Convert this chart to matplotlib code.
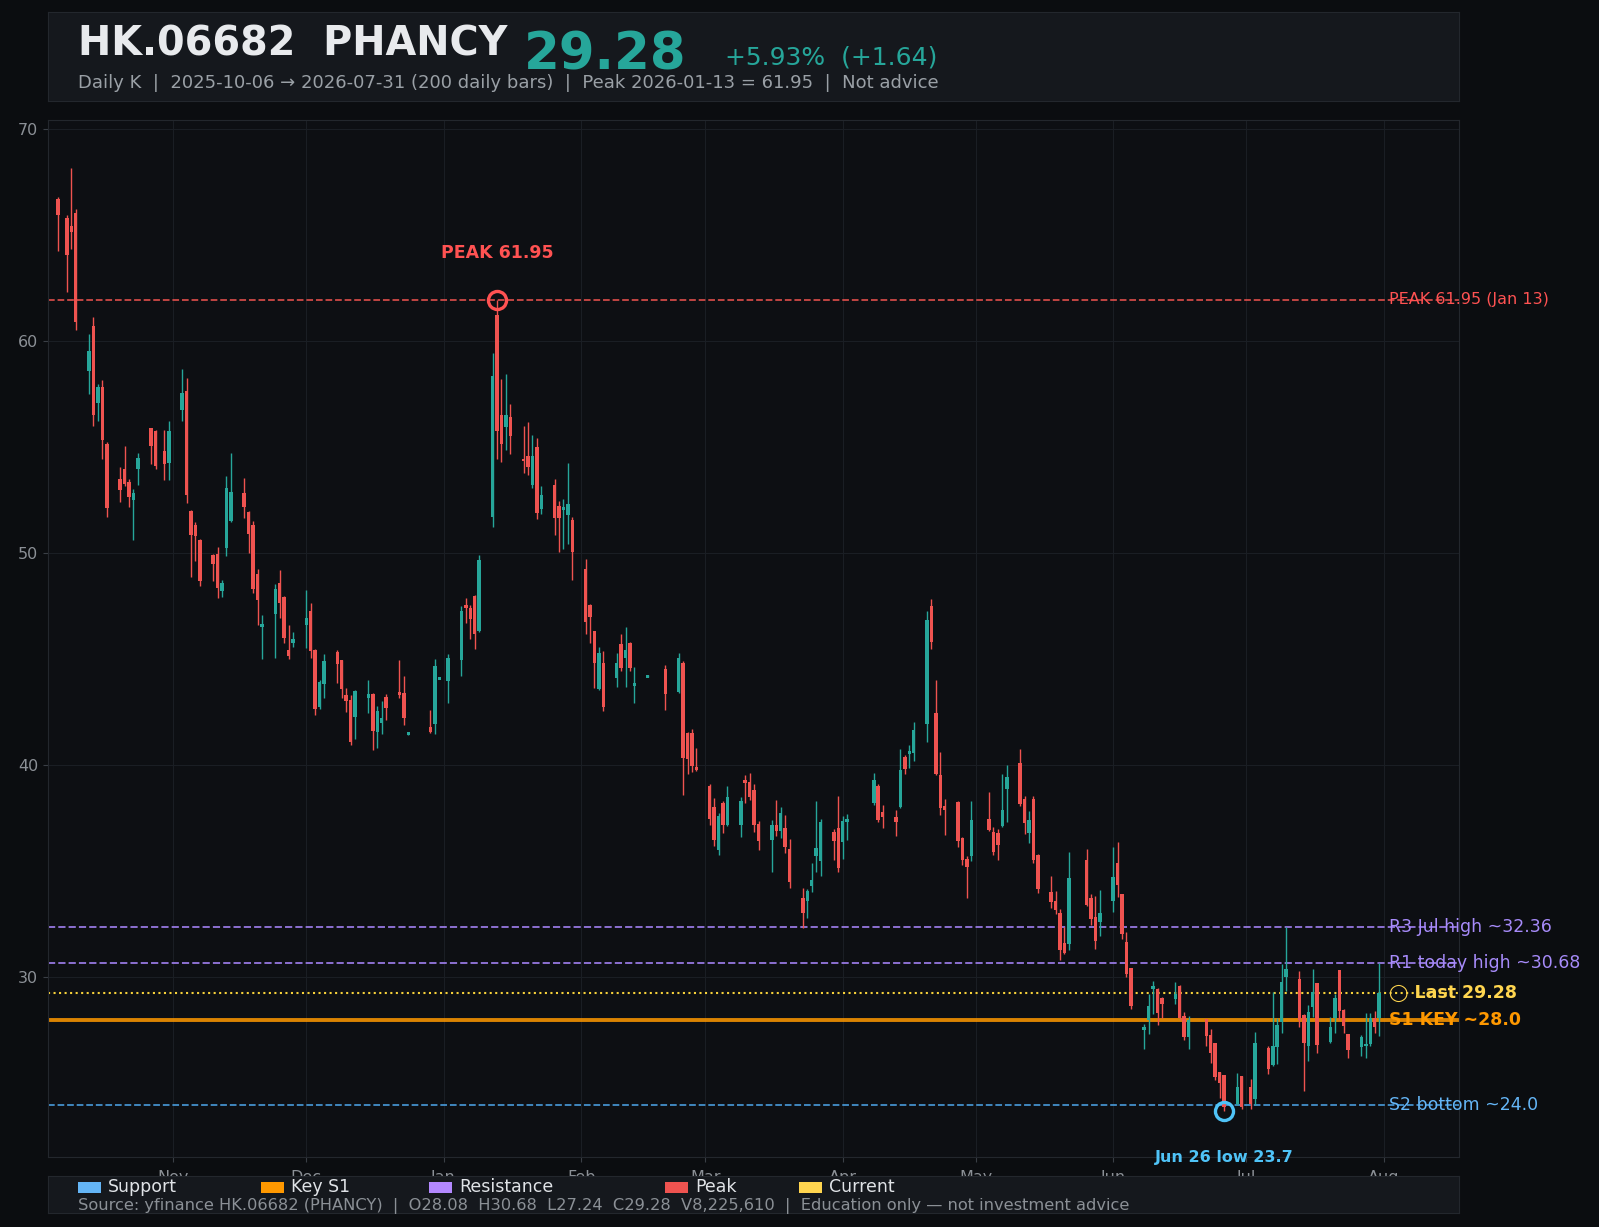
import matplotlib
matplotlib.use("Agg")
import matplotlib.pyplot as plt
import matplotlib.dates as mdates
from matplotlib.patches import Rectangle
import numpy as np
import pandas as pd

# Sesiones de HKEX: dias habiles menos festivos
festivos_hk = ["2025-10-07", "2025-10-29", "2025-12-25", "2025-12-26", "2026-01-01",
               "2026-02-17", "2026-02-18", "2026-02-19", "2026-04-03", "2026-04-06",
               "2026-04-07", "2026-05-01", "2026-05-25", "2026-06-19", "2026-07-01"]
dias = pd.bdate_range("2025-10-06", "2026-07-31")
dias = dias[~dias.isin(pd.to_datetime(festivos_hk))]

# OHLC (oct -> jul)
opens = [
    66.72, 65.84, 65.45, 66.03, 58.58, 60.74, 57.11, 57.84, 55.14, 53.53, 54.00, 53.35, 52.50, 53.97, 55.91, 55.77, 54.83, 54.27,
    56.77, 57.66, 52.00, 51.34, 50.63, 49.93, 49.96, 48.24, 50.27, 51.53, 52.83, 51.95, 51.34, 49.02, 46.56, 47.15, 48.60, 47.95, 45.44, 45.78,
    46.63, 47.27, 45.44, 42.76, 43.85, 45.36, 44.97, 43.32, 43.08, 42.29, 43.19, 43.36, 41.59, 42.01, 43.22, 43.42, 43.41, 41.49, 41.81, 41.95, 44.08,
    43.98, 44.98, 47.56, 47.42, 47.98, 46.33, 51.71, 61.24, 56.53, 55.97, 56.43, 54.46, 54.59, 53.22, 55.02, 52.09, 53.22, 52.23, 52.10, 51.81, 51.57,
    49.26, 47.56, 46.33, 43.60, 44.83, 44.13, 45.72, 45.08, 45.77, 43.80, 44.18, 44.54, 43.46, 44.83, 41.52, 41.52, 39.92,
    39.02, 38.03, 36.00, 38.22, 37.18, 37.18, 39.31, 39.21, 38.84, 37.23, 36.48, 37.18, 36.90, 37.04, 36.05, 33.74, 33.60, 34.31, 35.72, 35.49, 36.85, 37.04,
    36.38, 37.33, 38.22, 39.02, 37.80, 37.56, 38.03, 40.39, 40.59, 40.58, 41.95, 47.51, 42.47, 39.54, 38.09, 38.27, 36.57, 35.58, 35.72,
    37.47, 36.86, 36.81, 37.14, 38.88, 40.11, 38.41, 36.81, 38.41, 35.77, 34.02, 33.60, 33.03, 31.62, 31.57, 35.53, 33.74, 32.84, 32.61,
    33.60, 35.39, 33.93, 31.67, 30.44, 27.52, 27.99, 29.49, 29.45, 29.02, 28.98, 29.59, 28.17, 27.18, 28.03, 27.28, 26.90, 25.53, 25.39, 24.03, 25.35,
    24.83, 24.26, 26.66, 25.86, 26.71, 27.89, 30.01, 29.92, 28.22, 26.76, 28.60, 29.73, 26.95, 28.08, 30.34, 28.46, 27.33, 26.71, 26.76, 26.86, 28.08, 28.08,
]
highs = [
    66.82, 65.94, 68.19, 66.23, 60.34, 61.13, 57.99, 58.19, 55.24, 54.06, 55.04, 53.53, 53.03, 54.71, 55.93, 55.83, 55.81, 56.25,
    58.70, 58.26, 52.05, 51.50, 50.70, 49.95, 50.32, 48.74, 53.64, 54.74, 53.56, 52.00, 51.53, 49.25, 47.09, 48.55, 49.21, 48.00, 46.61, 46.30,
    48.27, 47.67, 45.48, 44.03, 45.25, 45.44, 44.99, 43.63, 43.32, 43.55, 44.02, 43.40, 42.79, 43.03, 43.36, 44.97, 44.21, 41.55, 42.61, 45.00, 44.14,
    45.25, 47.51, 47.89, 47.56, 48.03, 49.92, 59.46, 61.95, 58.23, 58.46, 57.04, 56.02, 56.19, 55.56, 55.44, 53.17, 53.50, 52.47, 52.55, 54.26, 51.71,
    49.73, 47.59, 46.36, 45.60, 45.41, 45.31, 46.19, 46.54, 45.80, 44.65, 44.24, 44.73, 45.31, 44.90, 41.55, 41.71, 40.82,
    39.12, 38.46, 37.75, 38.32, 39.02, 38.50, 39.54, 39.64, 39.12, 37.37, 37.42, 38.36, 38.03, 37.66, 36.52, 34.21, 34.17, 35.39, 38.32, 37.47, 37.00, 38.55,
    37.61, 37.70, 39.64, 39.10, 38.13, 37.89, 40.77, 40.49, 40.96, 42.04, 47.28, 47.84, 44.02, 40.63, 38.42, 38.30, 36.60, 35.72, 38.32,
    38.75, 37.09, 37.00, 39.59, 40.02, 40.77, 38.55, 37.84, 38.55, 35.80, 34.78, 34.07, 33.22, 32.37, 35.91, 36.05, 33.93, 33.83, 34.12,
    36.15, 36.38, 33.95, 32.14, 30.46, 27.80, 29.21, 29.83, 29.49, 29.05, 29.78, 29.62, 28.36, 28.17, 28.05, 27.56, 26.92, 25.55, 25.41, 25.49, 25.36,
    25.20, 27.42, 26.76, 29.30, 28.08, 30.63, 32.37, 30.30, 28.25, 28.69, 30.39, 29.75, 28.13, 29.21, 30.36, 28.50, 27.35, 27.28, 28.31, 28.31, 28.41, 30.68,
]
lows = [
    64.27, 62.31, 64.37, 60.54, 57.50, 56.03, 56.22, 54.46, 51.71, 52.40, 53.18, 52.20, 50.63, 53.22, 54.21, 53.97, 53.48, 53.46,
    56.25, 52.39, 48.89, 49.64, 48.47, 48.70, 47.90, 47.95, 49.88, 51.50, 51.65, 50.01, 48.11, 46.60, 45.02, 45.08, 46.96, 45.78, 45.02, 45.57,
    45.55, 45.06, 42.37, 42.68, 43.18, 43.90, 43.17, 42.53, 40.96, 41.24, 42.45, 40.72, 40.83, 41.48, 42.13, 43.20, 41.90, 41.45, 41.54, 41.50, 44.06,
    42.94, 44.22, 46.72, 45.96, 45.49, 46.30, 51.24, 54.45, 54.31, 54.87, 54.70, 53.80, 53.71, 53.10, 51.61, 51.86, 50.87, 50.06, 50.20, 50.43, 48.74,
    46.20, 45.75, 43.63, 43.55, 42.56, 43.68, 44.45, 43.71, 44.45, 42.94, 44.16, 42.61, 43.40, 38.60, 39.59, 39.68, 39.75,
    37.18, 36.19, 35.77, 36.81, 37.15, 36.62, 38.22, 38.36, 36.85, 36.00, 34.97, 36.66, 36.57, 35.86, 34.21, 32.31, 32.80, 34.02, 34.97, 34.78, 35.53, 34.97,
    35.58, 36.48, 38.13, 37.33, 37.04, 36.67, 38.00, 39.59, 39.87, 40.20, 41.10, 45.49, 39.55, 37.66, 36.71, 36.15, 35.30, 33.74, 35.49,
    36.90, 35.77, 35.53, 37.10, 37.33, 38.10, 36.76, 36.33, 35.39, 33.98, 33.27, 32.99, 30.82, 31.10, 31.29, 33.35, 32.47, 31.34, 31.95,
    33.08, 33.79, 31.81, 30.01, 28.50, 26.61, 27.33, 28.27, 27.75, 28.08, 28.74, 28.00, 27.04, 26.61, 26.76, 25.96, 25.16, 24.31, 23.69, 24.00, 23.79,
    23.79, 24.00, 25.44, 25.82, 25.91, 27.37, 29.35, 27.66, 24.64, 26.05, 28.13, 26.43, 26.90, 27.37, 27.99, 27.37, 26.19, 26.29, 26.19, 26.76, 27.37, 27.24,
]
closes = [
    65.94, 64.07, 65.15, 60.93, 59.56, 56.52, 57.84, 55.34, 52.15, 53.00, 53.25, 52.67, 52.86, 54.50, 55.05, 54.13, 54.21, 55.77,
    57.56, 52.77, 50.87, 50.83, 48.70, 49.51, 48.37, 48.60, 53.08, 52.89, 52.20, 50.90, 48.30, 47.80, 46.61, 48.32, 47.67, 46.02, 45.17, 45.96,
    46.95, 45.39, 42.65, 43.91, 44.92, 44.78, 43.60, 43.05, 41.11, 43.50, 43.36, 41.63, 42.56, 42.23, 42.72, 43.37, 42.25, 41.53, 41.57, 44.68, 44.12,
    45.06, 47.27, 47.42, 46.90, 46.20, 49.68, 58.38, 55.78, 55.17, 56.53, 55.55, 54.34, 54.08, 54.59, 51.90, 52.75, 51.66, 51.66, 52.14, 52.33, 50.06,
    46.76, 46.99, 44.84, 45.30, 42.76, 44.83, 44.59, 45.44, 44.59, 43.84, 44.22, 43.36, 45.06, 40.35, 40.29, 39.97, 39.78,
    37.47, 36.48, 37.61, 37.18, 38.50, 38.32, 39.17, 38.50, 37.18, 36.43, 37.18, 36.90, 37.75, 36.15, 34.50, 33.05, 34.07, 34.59, 36.10, 37.33, 36.43, 35.16,
    37.37, 37.47, 39.31, 37.42, 37.56, 37.33, 39.78, 39.83, 40.63, 41.67, 46.85, 45.82, 39.59, 37.99, 37.90, 36.43, 35.53, 35.20, 37.42,
    36.95, 35.91, 36.24, 37.89, 39.45, 38.18, 37.28, 37.42, 35.53, 34.16, 33.55, 33.17, 31.29, 31.15, 34.68, 33.41, 32.75, 31.71, 33.03,
    34.73, 34.35, 32.04, 30.16, 28.65, 27.66, 28.65, 29.54, 28.32, 28.74, 29.21, 28.08, 27.18, 27.99, 27.23, 26.43, 25.30, 25.01, 23.88, 24.83, 23.88,
    24.02, 26.90, 25.67, 26.76, 27.75, 29.78, 30.39, 27.99, 26.90, 28.36, 29.31, 26.80, 27.66, 29.02, 28.41, 27.70, 26.57, 27.18, 26.86, 28.08, 27.64, 29.28,
]

# Niveles marcados
pico_fecha, pico_valor = "2026-01-13", 61.95
minimo_fecha, minimo_valor = "2026-06-26", 23.69
r3, r1, ultimo, s1, s2 = 32.36, 30.68, 29.28, 28.0, 24.0

# Colores
FONDO = "#0b0d10"
FONDO_AX = "#0d0f13"
PANEL = "#15181d"
BORDE = "#23272d"
SUBE = "#26a69a"
BAJA = "#ef5350"
ROJO = "#ff5252"
MORADO = "#a78bfa"
AMARILLO = "#ffd54f"
NARANJA = "#ff9800"
AZUL = "#64b5f6"
CELESTE = "#4fc3f7"
GRIS = "#8b9096"

W, H = 1599, 1227


def fx(px):
    return px / W


def fy(py):
    return 1 - py / H


fig = plt.figure(figsize=(W / 100, H / 100), dpi=100, facecolor=FONDO)

# ---- Grafico principal ----
ax = fig.add_axes([fx(48), fy(1156.5), fx(1459) - fx(48), fy(120) - fy(1156.5)])
ax.set_facecolor(FONDO_AX)

o = np.array(opens)
h = np.array(highs)
l = np.array(lows)
c = np.array(closes)
x = mdates.date2num(dias)
colores = np.where(c >= o, SUBE, BAJA)
cuerpo = np.maximum(np.abs(c - o), 0.12)
base = (o + c) / 2 - cuerpo / 2

ax.vlines(x, l, h, colors=colores, lw=1.0, zorder=3)
ax.bar(x, cuerpo, bottom=base, width=0.78, color=colores, lw=0, zorder=4)

# Lineas de niveles
ax.axhline(pico_valor, color=BAJA, ls="--", lw=1.3, alpha=0.85, zorder=2)
ax.axhline(r3, color="#9a7be6", ls="--", lw=1.4, alpha=0.9, zorder=2)
ax.axhline(r1, color="#9a7be6", ls="--", lw=1.4, alpha=0.9, zorder=2)
ax.axhline(ultimo, color="#f5d03a", ls=":", lw=1.5, zorder=2)
ax.axhline(s1, color=NARANJA, ls="-", lw=2.8, alpha=0.85, zorder=2)
ax.axhline(s2, color="#4a9ee0", ls="--", lw=1.3, alpha=0.9, zorder=2)

x_pico = mdates.date2num(pd.Timestamp(pico_fecha))
x_min = mdates.date2num(pd.Timestamp(minimo_fecha))
ax.plot([x_pico], [pico_valor], "o", ms=13, mfc="none", mec=ROJO, mew=2.4, zorder=6)
ax.text(x_pico, pico_valor + 2.2, "PEAK 61.95", color=ROJO, fontsize=12.5,
        fontweight="bold", ha="center", va="center", zorder=6)
ax.plot([x_min], [minimo_valor], "o", ms=13, mfc="none", mec=CELESTE, mew=2.4,
        zorder=6, clip_on=False)
ax.text(x_min, minimo_valor - 2.2, "Jun 26 low 23.7", color=CELESTE, fontsize=11.5,
        fontweight="bold", ha="center", va="center", zorder=6, clip_on=False)

# Etiquetas a la derecha
xr = x[-1] + 2.3
ax.text(xr, pico_valor, "PEAK 61.95 (Jan 13)", color=ROJO, fontsize=11.5,
        va="center", ha="left", clip_on=False)
ax.text(xr, r3, "R3 Jul high ~32.36", color=MORADO, fontsize=12.5,
        va="center", ha="left", clip_on=False)
ax.text(xr, r1, "R1 today high ~30.68", color=MORADO, fontsize=12.5,
        va="center", ha="left", clip_on=False)
ax.text(xr, ultimo, "◯ Last 29.28", color=AMARILLO, fontsize=12.5, fontweight="bold",
        va="center", ha="left", clip_on=False)
ax.text(xr, s1, "S1 KEY ~28.0", color=NARANJA, fontsize=12.5, fontweight="bold",
        va="center", ha="left", clip_on=False)
ax.text(xr, s2, "S2 bottom ~24.0", color=AZUL, fontsize=12.5,
        va="center", ha="left", clip_on=False)

ax.set_xlim(x[0] - 2.26, x[-1] + 18.0)
ax.set_ylim(21.55, 70.44)
ax.set_yticks([30, 40, 50, 60, 70])
ax.xaxis.set_major_locator(mdates.MonthLocator())
ax.xaxis.set_major_formatter(mdates.DateFormatter("%b"))
ax.tick_params(axis="both", colors="#3a3f46", labelcolor=GRIS, labelsize=11.5)
ax.tick_params(axis="x", pad=6)
ax.grid(True, color="#1a1e24", lw=0.8, zorder=0)
ax.set_axisbelow(True)
for s in ax.spines.values():
    s.set_color(BORDE)

# ---- Cabecera ----
cab = fig.add_axes([fx(47.7), fy(100.7), fx(1459) - fx(47.7), fy(12.3) - fy(100.7)])
cab.set_facecolor(PANEL)
cab.set_xticks([])
cab.set_yticks([])
for s in cab.spines.values():
    s.set_color(BORDE)

fig.text(fx(78), fy(55), "HK.06682  PHANCY", color="#e8eaed", fontsize=28.6,
         fontweight="bold", va="baseline", ha="left")
fig.text(fx(524), fy(70), "29.28", color=SUBE, fontsize=37,
         fontweight="bold", va="baseline", ha="left")
fig.text(fx(725), fy(64), "+5.93%  (+1.64)", color=SUBE, fontsize=18,
         va="baseline", ha="left")
fig.text(fx(78), fy(88), "Daily K  |  2025-10-06 → 2026-07-31 (200 daily bars)  |  "
         "Peak 2026-01-13 = 61.95  |  Not advice", color="#9aa0a6", fontsize=13,
         va="baseline", ha="left")

# ---- Leyenda inferior (tapa las etiquetas de mes) ----
ley = fig.add_axes([fx(48), fy(1213), fx(1459) - fx(48), fy(1176) - fy(1213)])
ley.set_facecolor(PANEL)
ley.set_xlim(48, 1459)
ley.set_ylim(1213, 1176)
ley.set_xticks([])
ley.set_yticks([])
for s in ley.spines.values():
    s.set_color(BORDE)

nombres_ley = ["Support", "Key S1", "Resistance", "Peak", "Current"]
colores_ley = [AZUL, NARANJA, "#b388ff", BAJA, AMARILLO]
x_ley = [77.5, 261.4, 429.3, 665, 799]
for xi, nom, col in zip(x_ley, nombres_ley, colores_ley):
    ley.add_patch(Rectangle((xi, 1181.5), 23, 11, color=col, lw=0))
    ley.text(xi + 30, 1187, nom, color="#e0e3e7", fontsize=12.5, va="center", ha="left")
ley.text(77.5, 1205.5, "Source: yfinance HK.06682 (PHANCY)  |  O28.08  H30.68  L27.24  "
         "C29.28  V8,225,610  |  Education only — not investment advice",
         color=GRIS, fontsize=11.7, va="center", ha="left")

plt.savefig("out.png", dpi=100, facecolor=FONDO)
plt.close()
